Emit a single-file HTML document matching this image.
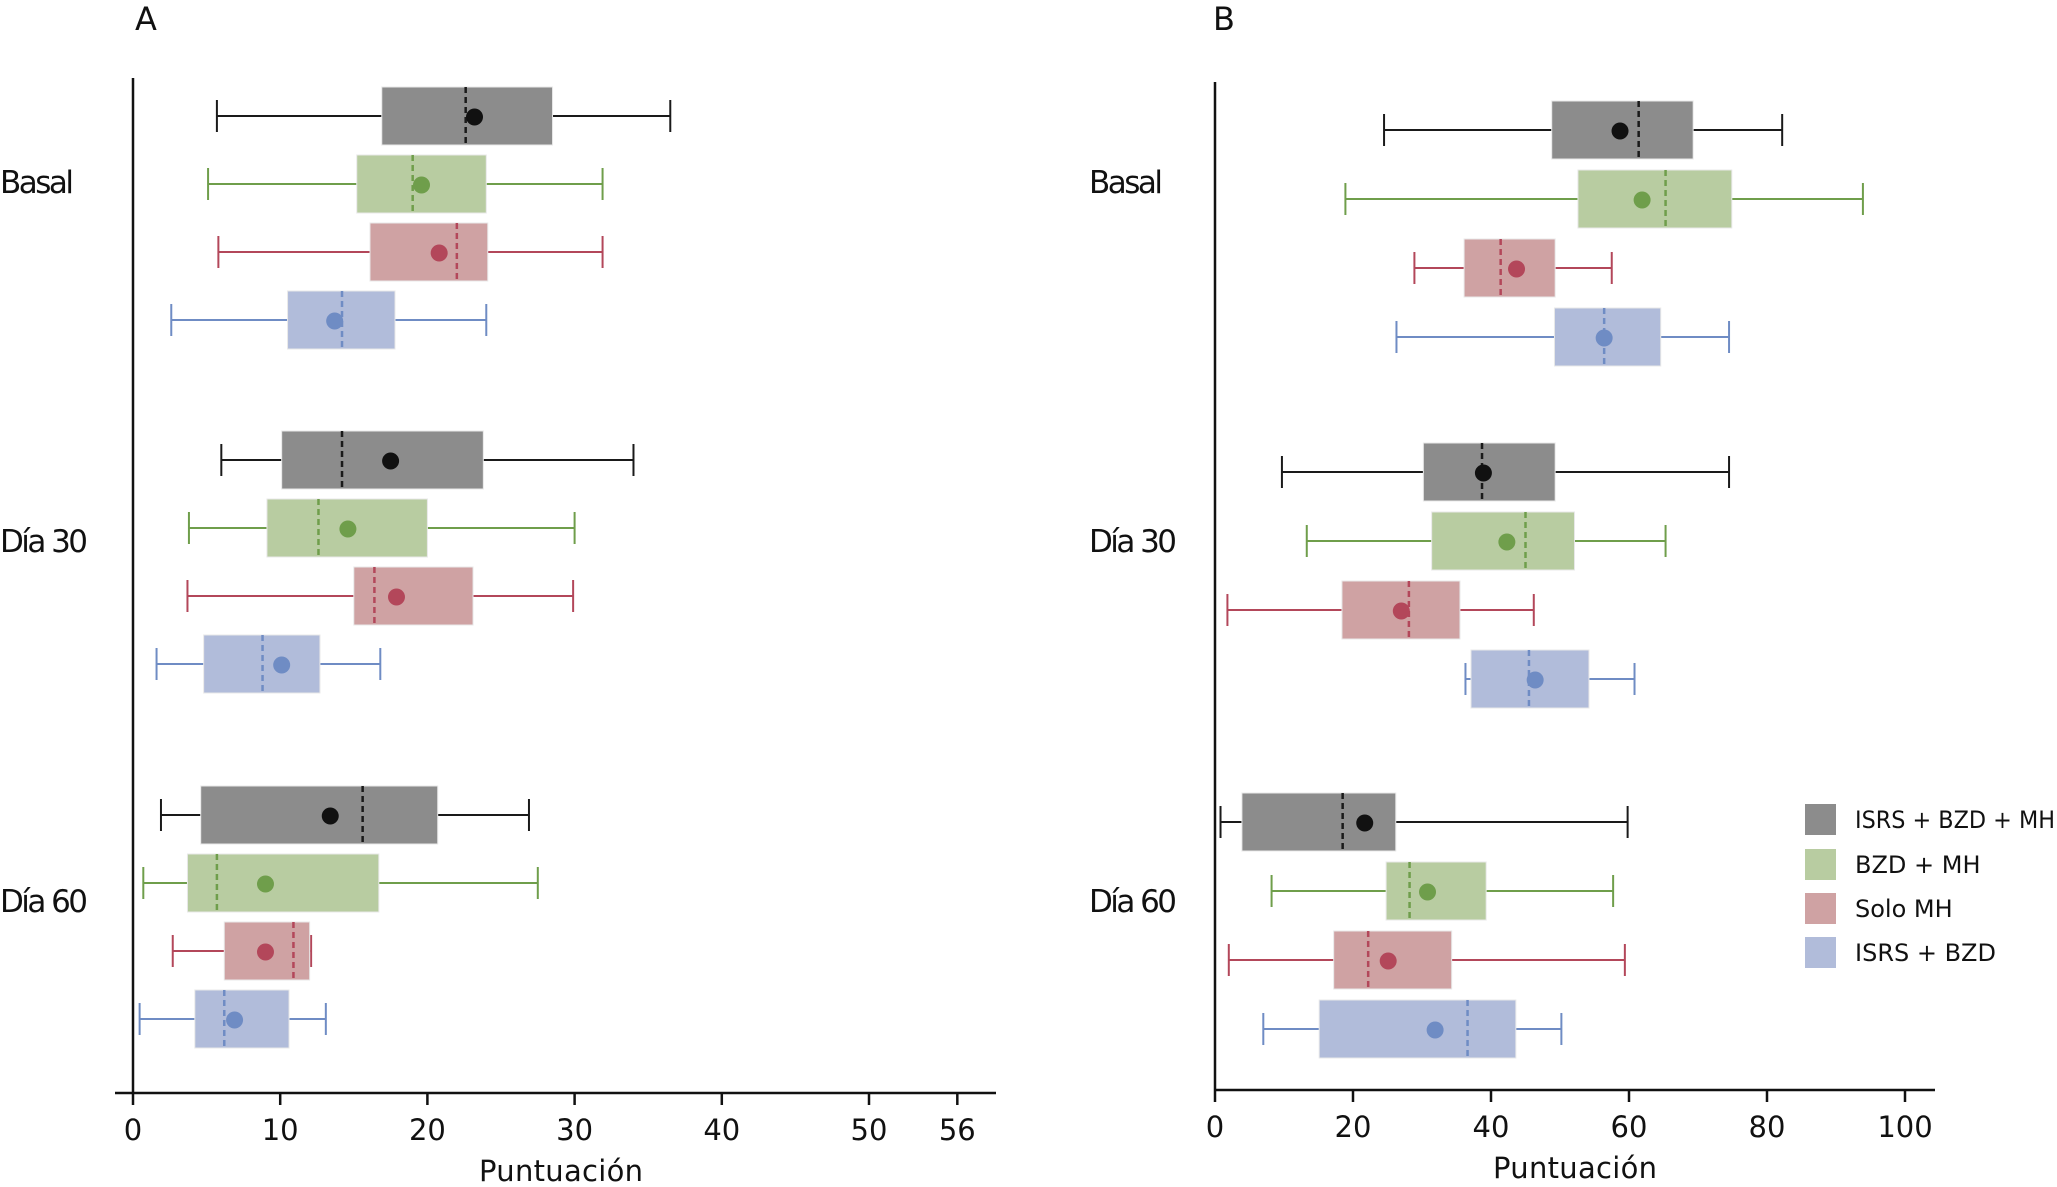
<!DOCTYPE html>
<html><head><meta charset="utf-8"><style>
html,body{margin:0;padding:0;background:#fff;}
svg{display:block;font-family:"DejaVu Sans","Liberation Sans",sans-serif;}
</style></head><body>
<svg id="chart" width="2057" height="1187" viewBox="0 0 2057 1187" xmlns="http://www.w3.org/2000/svg"></svg>
<script>
// Categories and series
const groups = ["Basal", "Día 30", "Día 60"];
const seriesNames = ["ISRS + BZD + MH", "BZD + MH", "Solo MH", "ISRS + BZD"];
// Each entry: [whiskerLow, q1, median, mean, q3, whiskerHigh]
const panelAGray  = [[5.7,16.9,22.6,23.2,28.5,36.5],[6.0,10.1,14.2,17.5,23.8,34.0],[1.9,4.6,15.6,13.4,20.7,26.9]];
const panelAGreen = [[5.1,15.2,19.0,19.6,24.0,31.9],[3.8,9.1,12.6,14.6,20.0,30.0],[0.7,3.7,5.7,9.0,16.7,27.5]];
const panelARed   = [[5.8,16.1,22.0,20.8,24.1,31.9],[3.7,15.0,16.4,17.9,23.1,29.9],[2.7,6.2,10.9,9.0,12.0,12.1]];
const panelABlue  = [[2.6,10.5,14.2,13.7,17.8,24.0],[1.6,4.8,8.8,10.1,12.7,16.8],[0.45,4.2,6.2,6.9,10.6,13.1]];
const panelBGray  = [[24.5,48.8,61.4,58.7,69.3,82.2],[9.7,30.2,38.7,38.9,49.3,74.5],[0.8,3.9,18.5,21.7,26.2,59.8]];
const panelBGreen = [[18.9,52.6,65.3,61.9,74.9,93.9],[13.3,31.4,45.0,42.3,52.1,65.3],[8.2,24.8,28.2,30.8,39.3,57.7]];
const panelBRed   = [[28.9,36.1,41.4,43.7,49.3,57.5],[1.8,18.4,28.1,27.0,35.5,46.2],[2.0,17.2,22.2,25.1,34.3,59.4]];
const panelBBlue  = [[26.3,49.2,56.4,56.4,64.6,74.5],[36.3,37.1,45.5,46.4,54.2,60.8],[7.0,15.1,36.6,31.9,43.6,50.2]];
const ticksA = [0,10,20,30,40,50,56];
const ticksB = [0,20,40,60,80,100];

const NS = "http://www.w3.org/2000/svg";
const svg = document.getElementById("chart");
const fills = ["#8c8c8c","#b8cca1","#cfa2a3","#b1bcda"];
const strokes = ["#1a1a1a","#6f9e4b","#b3475a","#6f8cc4"];
const dots = ["#111111","#6f9e4b","#b3475a","#6f8cc4"];
const labelLen = [74, 88, 88];

function mk(tag, attrs, parent){
  const e = document.createElementNS(NS, tag);
  for (const k in attrs) e.setAttribute(k, attrs[k]);
  (parent||svg).appendChild(e);
  return e;
}
function txt(s, attrs, parent){ const t = mk("text", attrs, parent); t.textContent = s; return t; }

function panel(cfg){
  const g = mk("g", {});
  
  
  const x = v => cfg.x0 + v * cfg.k;
  const L = txt(cfg.letter, {x: cfg.letterX, y: 30, "font-size": 32, fill: "#111"}, g);
  
  
  const ya = mk("line", {x1: cfg.x0, y1: cfg.yTop, x2: cfg.x0, y2: cfg.yBot, stroke: "#111", "stroke-width": 2.5}, g);
  
  
  const xa = mk("line", {x1: cfg.xL, y1: cfg.yBot, x2: cfg.xR, y2: cfg.yBot, stroke: "#111", "stroke-width": 2.5}, g);
  
  
  cfg.ticks.forEach(t => {
    const tl = mk("line", {x1: x(t), y1: cfg.yBot, x2: x(t), y2: cfg.yBot + 12, stroke: "#111", "stroke-width": 2.5}, g);
    
    
    const lb = txt(String(t), {x: x(t), y: cfg.yBot + 47, "font-size": 29, "text-anchor": "middle", fill: "#111"}, g);
    
    
  });
  const at = txt("Puntuación", {x: cfg.titleX, y: cfg.yBot + 88, "font-size": 29, "text-anchor": "middle", fill: "#111", textLength: 164}, g);
  
  
  groups.forEach((gn, gi) => {
    const cl = txt(gn, {x: cfg.labelX, y: cfg.labelY[gi], "font-size": 31, fill: "#111", textLength: labelLen[gi]}, g);
    
    
    cfg.series.forEach((arr, si) => {
      const d = arr[gi];
      const cy = cfg.groupY[gi] + si * cfg.step;
      const h = 58;
      const bg = mk("g", {}, g);
      
      
      mk("line", {x1: x(d[0]), y1: cy, x2: x(d[5]), y2: cy, stroke: strokes[si], "stroke-width": 2}, bg);
      mk("line", {x1: x(d[0]), y1: cy - 16, x2: x(d[0]), y2: cy + 16, stroke: strokes[si], "stroke-width": 2}, bg);
      mk("line", {x1: x(d[5]), y1: cy - 16, x2: x(d[5]), y2: cy + 16, stroke: strokes[si], "stroke-width": 2}, bg);
      mk("rect", {x: x(d[1]), y: cy - h/2, width: x(d[4]) - x(d[1]), height: h, fill: fills[si], stroke: "#e8e8e8", "stroke-width": 1}, bg);
      mk("line", {x1: x(d[2]), y1: cy - h/2, x2: x(d[2]), y2: cy + h/2, stroke: strokes[si], "stroke-width": 2.5, "stroke-dasharray": "6,4"}, bg);
      mk("ellipse", {cx: x(d[3]), cy: cy + 1, rx: 8.5, ry: 8.5, fill: dots[si]}, bg);
    });
  });
}

panel({name: "panel-a", letter: "A", letterX: 135, x0: 133, k: 14.72, yTop: 78, yBot: 1093, xL: 115, xR: 996,
  ticks: ticksA, titleX: 561, labelX: 0, labelY: [193, 552, 912], groupY: [116, 460, 815], step: 68,
  series: [panelAGray, panelAGreen, panelARed, panelABlue]});
panel({name: "panel-b", letter: "B", letterX: 1213, x0: 1215, k: 6.9, yTop: 82, yBot: 1090, xL: 1215, xR: 1935,
  ticks: ticksB, titleX: 1575, labelX: 1089, labelY: [193, 552, 912], groupY: [130, 472, 822], step: 69,
  series: [panelBGray, panelBGreen, panelBRed, panelBBlue]});

const lg = mk("g", {});


const legY = [819, 864, 908, 952];
seriesNames.forEach((n, i) => {
  const e = mk("g", {}, lg);
  
  
  mk("rect", {x: 1805, y: legY[i] - 15, width: 31, height: 31, fill: fills[i]}, e);
  const a = {x: 1855, y: legY[i] + 9, "font-size": 24, fill: "#111"};
  if (i === 0) { a.textLength = 200; a.lengthAdjust = "spacingAndGlyphs"; }
  txt(n, a, e);
});
</script>
</body></html>
